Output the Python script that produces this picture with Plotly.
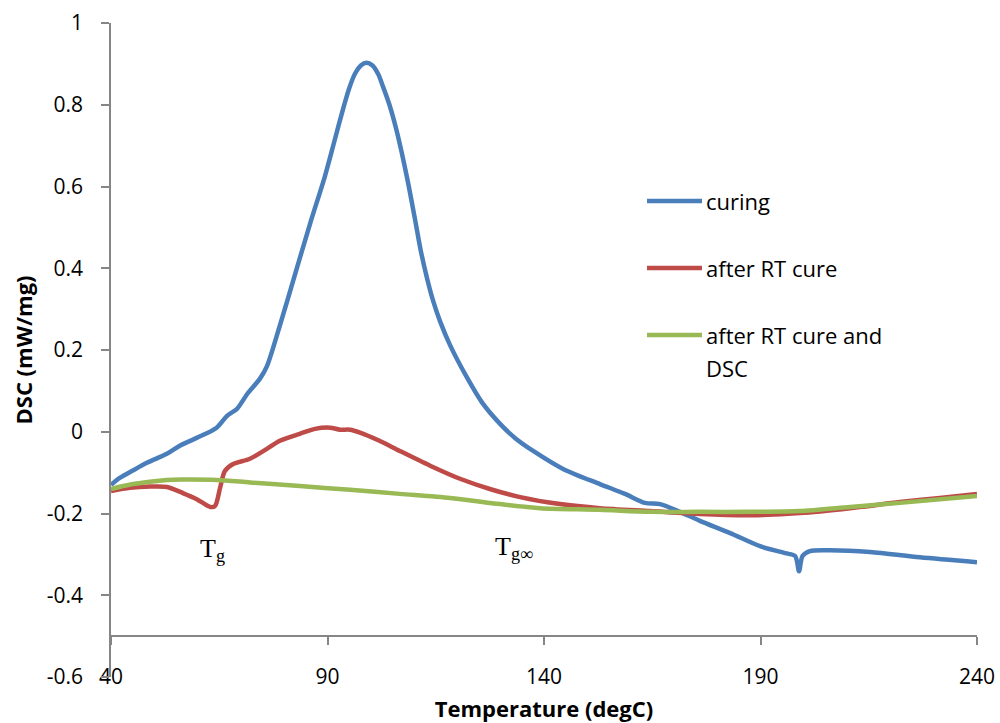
import plotly.graph_objects as go

# DSC traces: temperature (degC) vs heat flow (mW/mg)
curing_T = [40, 42, 45, 48.3, 52.9, 55.9, 59.8, 64.4, 66.8, 69.1, 71.5, 74.4, 76, 79, 82.5, 86,
            89.4, 91.7, 93.6, 95, 96.4, 97.7, 99, 100.4, 101.7, 102.8, 104.3, 106, 108.4, 110.2,
            111.5, 113, 114.4, 116, 118.3, 122.2, 125.8, 129.8, 133.5, 137.5, 144.4, 152.9, 158.7,
            163.3, 166.8, 171.4, 176, 183, 189.9, 195.7, 198, 198.9, 199.7, 201.4, 206, 215.3,
            226.8, 240]
curing_dsc = [-0.13, -0.113, -0.095, -0.076, -0.054, -0.034, -0.015, 0.01, 0.039, 0.056, 0.093,
              0.13, 0.16, 0.26, 0.385, 0.51, 0.625, 0.715, 0.79, 0.84, 0.877, 0.896, 0.903, 0.896,
              0.875, 0.845, 0.80, 0.735, 0.62, 0.52, 0.445, 0.375, 0.32, 0.27, 0.212, 0.133, 0.07,
              0.02, -0.017, -0.047, -0.091, -0.128, -0.152, -0.174, -0.177, -0.196, -0.218,
              -0.248, -0.28, -0.297, -0.304, -0.341, -0.304, -0.292, -0.29, -0.294, -0.307,
              -0.319]

rt_T = [40, 44.4, 49, 52.9, 56.6, 59.8, 62.9, 64, 65.2, 66.3, 68.2, 72.1, 76, 79, 83.6, 87.1,
        90.6, 92.9, 95.2, 97.5, 102, 106.7, 113.7, 120.6, 127.5, 134.5, 143.7, 152.9, 164.5,
        176, 187.6, 199.1, 210.7, 222.2, 231.4, 240]
rt_dsc = [-0.145, -0.137, -0.134, -0.135, -0.15, -0.165, -0.184, -0.182, -0.137, -0.096, -0.079,
          -0.066, -0.042, -0.022, -0.005, 0.007, 0.01, 0.005, 0.005, -0.002, -0.022, -0.047,
          -0.083, -0.115, -0.14, -0.16, -0.177, -0.187, -0.194, -0.201, -0.204, -0.199, -0.187,
          -0.172, -0.162, -0.152]

rtdsc_T = [40, 45.1, 52.9, 56.6, 64.4, 72.1, 83.6, 95.2, 106.7, 118.3, 129.8, 139.1, 152.9,
           164.5, 176, 187.6, 199.1, 210.7, 222.2, 240]
rtdsc_dsc = [-0.14, -0.128, -0.118, -0.117, -0.118, -0.124, -0.133, -0.142, -0.152, -0.162,
             -0.177, -0.187, -0.191, -0.196, -0.196, -0.196, -0.194, -0.184, -0.174, -0.157]

series_names = ["curing", "after RT cure", "after RT cure and DSC"]
colors = ["#4A7EBB", "#BE4B48", "#98B954"]

x_ticks = [40, 90, 140, 190, 240]
y_ticks = [-0.6, -0.4, -0.2, 0, 0.2, 0.4, 0.6, 0.8, 1]
y_ticktext = ["-0.6", "-0.4", "-0.2", "0", "0.2", "0.4", "0.6", "0.8", "1"]

FONT = "'Open Sans', sans-serif"
AXIS_GREY = "#868686"
TXT = 21
LEG_TXT = 22
TITLE_TXT = 22

# plot-area geometry (pixels) used to place the legend in paper coordinates
L, R, T, B = 111, 23, 23, 46
PW, PH = 1000 - L - R, 723 - T - B


def px_x(px):
    return (px - L) / PW


def px_y(py):
    return (723 - B - py) / PH


fig = go.Figure()
for name, xs, ys, c in zip(series_names,
                           [curing_T, rt_T, rtdsc_T],
                           [curing_dsc, rt_dsc, rtdsc_dsc], colors):
    fig.add_trace(go.Scatter(x=xs, y=ys, mode="lines", name=name,
                             line=dict(color=c, width=4.5, shape="spline", smoothing=0.8),
                             showlegend=False))

# Legend: line sample + label for each series
legend_rows = [("curing", 201), ("after RT cure", 268), ("after RT cure and", 335)]
shapes = []
annotations = []
for (lab, py), c in zip(legend_rows, colors):
    shapes.append(dict(type="line", xref="paper", yref="paper",
                       x0=px_x(647), x1=px_x(702), y0=px_y(py), y1=px_y(py),
                       line=dict(color=c, width=4.5)))
    annotations.append(dict(xref="paper", yref="paper", x=px_x(704), y=px_y(py), text=lab,
                            showarrow=False, xanchor="left", yanchor="middle",
                            font=dict(family=FONT, size=LEG_TXT, color="#000000")))
annotations.append(dict(xref="paper", yref="paper", x=px_x(704), y=px_y(368), text="DSC",
                        showarrow=False, xanchor="left", yanchor="middle",
                        font=dict(family=FONT, size=LEG_TXT, color="#000000")))

annotations.append(dict(xref="x", yref="y", x=63.5, y=-0.29, text="T<sub>g</sub>", showarrow=False,
                        font=dict(family="Liberation Serif, serif", size=26, color="#000000")))
annotations.append(dict(xref="x", yref="y", x=133, y=-0.285, text="T<sub>g∞</sub>", showarrow=False,
                        font=dict(family="Liberation Serif, serif", size=26, color="#000000")))

fig.update_layout(
    width=1000, height=723,
    margin=dict(l=L, r=R, t=T, b=B, autoexpand=False),
    paper_bgcolor="white", plot_bgcolor="white",
    font=dict(family=FONT, size=TXT, color="#000000"),
    shapes=shapes, annotations=annotations,
    xaxis=dict(range=[40, 240], tickvals=x_ticks, ticktext=[str(v) for v in x_ticks],
               anchor="free", position=0.0625,
               showline=True, linecolor=AXIS_GREY, linewidth=1.5,
               ticks="outside", ticklen=8, tickcolor=AXIS_GREY, tickwidth=1.5,
               ticklabelstandoff=14,
               showgrid=False, zeroline=False,
               title=dict(text="<b>Temperature (degC)</b>", standoff=19,
                          font=dict(family=FONT, size=TITLE_TXT))),
    yaxis=dict(range=[-0.6, 1], tickvals=y_ticks, ticktext=y_ticktext,
               showline=True, linecolor=AXIS_GREY, linewidth=1.5,
               ticks="outside", ticklen=8, tickcolor=AXIS_GREY, tickwidth=1.5,
               ticklabelstandoff=14,
               showgrid=False, zeroline=False,
               title=dict(text="<b>DSC (mW/mg)</b>", standoff=8,
                          font=dict(family=FONT, size=TITLE_TXT))),
)

fig.write_html("out.html")
